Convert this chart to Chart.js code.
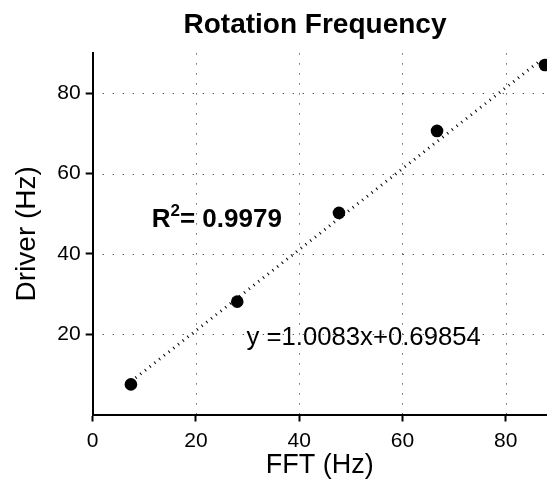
<!DOCTYPE html>
<html>
<head>
<meta charset="utf-8">
<script src="https://cdn.jsdelivr.net/npm/chart.js@4/dist/chart.umd.min.js"></script>
<style>
  html, body { margin: 0; padding: 0; background: #ffffff; }
  #wrap { width: 547px; height: 488px; }
</style>
</head>
<body>
<div id="wrap"><canvas id="c" width="547" height="488"></canvas></div>
<script>
// ---- data ----
const fftHz    = [7.4, 28.0, 47.7, 66.7, 87.6];
const driverHz = [7.5, 28.1, 50.2, 70.6, 87.0];
// fitted trend line endpoints (y = 1.0083x + 0.69854)
const trendX = [7.4, 86.8];
const trendY = [8.2, 88.2];
const xTicks = [0, 20, 40, 60, 80];
const yTicks = [20, 40, 60, 80];
const titleText = 'Rotation Frequency';
const xTitle = 'FFT (Hz)';
const yTitle = 'Driver (Hz)';
const r2Label = '0.9979';
const eqLabel = 'y =1.0083x+0.69854';

const FONT = '"Liberation Sans", Arial, Helvetica, sans-serif';

const points = fftHz.map((x, i) => ({ x: x, y: driverHz[i] }));
const trend = trendX.map((x, i) => ({ x: x, y: trendY[i] }));

const gridPlugin = {
  id: 'dottedGrid',
  beforeDatasetsDraw(chart) {
    const { ctx, chartArea: a, scales: { x, y } } = chart;
    ctx.save();
    ctx.strokeStyle = 'rgba(0,0,0,0.75)';
    ctx.lineWidth = 1;
    ctx.setLineDash([1.2, 8.8]);
    xTicks.forEach(v => {
      if (v === 0) return;
      const px = Math.round(x.getPixelForValue(v)) + 0.5;
      ctx.beginPath(); ctx.moveTo(px, a.bottom); ctx.lineTo(px, a.top); ctx.stroke();
    });
    yTicks.forEach(v => {
      const py = Math.round(y.getPixelForValue(v)) + 0.5;
      ctx.beginPath(); ctx.moveTo(a.left, py); ctx.lineTo(a.right, py); ctx.stroke();
    });
    ctx.restore();
  }
};

const textPlugin = {
  id: 'texts',
  afterDraw(chart) {
    const { ctx, chartArea: a, scales: { x, y } } = chart;
    ctx.save();
    ctx.fillStyle = '#000';
    ctx.textBaseline = 'alphabetic';
    // title
    ctx.font = 'bold 28px ' + FONT;
    ctx.textAlign = 'center';
    ctx.fillText(titleText, 315, 33);
    // R^2 annotation
    ctx.textAlign = 'left';
    let px = x.getPixelForValue(11.43);
    const py = y.getPixelForValue(46.8);
    ctx.font = 'bold 26px ' + FONT;
    ctx.fillText('R', px, py);
    px += ctx.measureText('R').width;
    ctx.font = 'bold 17px ' + FONT;
    ctx.fillText('2', px, py - 11);
    px += ctx.measureText('2').width;
    ctx.font = 'bold 26px ' + FONT;
    ctx.fillText('= ' + r2Label, px, py);
    // equation
    ctx.font = '25.7px ' + FONT;
    ctx.fillText(eqLabel, x.getPixelForValue(29.8), y.getPixelForValue(17.4));
    ctx.restore();
  }
};

new Chart(document.getElementById('c'), {
  type: 'scatter',
  data: {
    datasets: [
      {
        type: 'line',
        label: 'trend',
        data: trend,
        borderColor: '#000',
        borderWidth: 3,
        borderDash: [1, 5],
        pointRadius: 0,
        fill: false,
        order: 2
      },
      {
        label: 'data',
        data: points,
        backgroundColor: '#000',
        borderColor: '#000',
        borderWidth: 0,
        pointRadius: 6.3,
        pointHoverRadius: 6.3,
        order: 1
      }
    ]
  },
  options: {
    responsive: false,
    animation: false,
    devicePixelRatio: 1,
    layout: { autoPadding: false, padding: { top: 53, right: 0, left: 0, bottom: 0 } },
    plugins: {
      legend: { display: false },
      title: { display: false },
      tooltip: { enabled: false }
    },
    scales: {
      x: {
        type: 'linear',
        position: 'bottom',
        min: 0,
        max: 88,
        afterBuildTicks(scale) { scale.ticks = xTicks.map(v => ({ value: v })); },
        afterFit(scale) { scale.height = 73.5; },
        ticks: {
          color: '#000',
          font: { family: FONT, size: 21 },
          padding: 7,
          maxRotation: 0,
          callback: v => String(v)
        },
        grid: {
          drawOnChartArea: false,
          drawTicks: true,
          tickLength: 7,
          tickColor: '#000',
          tickWidth: 2
        },
        border: { display: true, color: '#000', width: 2 },
        title: {
          display: true,
          text: xTitle,
          color: '#000',
          font: { family: FONT, size: 27 },
          padding: { top: 0, bottom: 6 }
        }
      },
      y: {
        type: 'linear',
        position: 'left',
        min: 0,
        max: 90,
        afterBuildTicks(scale) { scale.ticks = yTicks.map(v => ({ value: v })); },
        afterFit(scale) { scale.width = 92.7; },
        ticks: {
          color: '#000',
          font: { family: FONT, size: 21 },
          padding: 5,
          callback: v => String(v)
        },
        grid: {
          drawOnChartArea: false,
          drawTicks: true,
          tickLength: 7,
          tickColor: '#000',
          tickWidth: 2
        },
        border: { display: true, color: '#000', width: 2 },
        title: {
          display: true,
          text: yTitle,
          color: '#000',
          font: { family: FONT, size: 28 },
          padding: { top: 10, bottom: 0 }
        }
      }
    }
  },
  plugins: [gridPlugin, textPlugin]
});
</script>
</body>
</html>
